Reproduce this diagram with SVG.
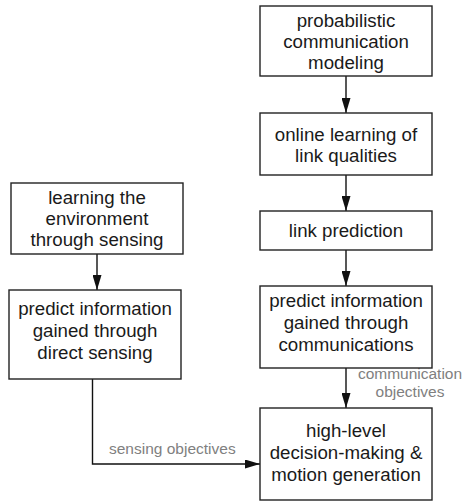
<svg xmlns="http://www.w3.org/2000/svg" width="463" height="501" viewBox="0 0 463 501">
  <defs>
    <marker id="arrow" viewBox="0 0 15 9" refX="15" refY="4.5" markerWidth="15" markerHeight="9" markerUnits="userSpaceOnUse" orient="auto">
      <path d="M0,0 L15,4.5 L0,9 Z" fill="#111"/>
    </marker>
  </defs>
  <style>
    .box { fill: #fff; stroke: #222; stroke-width: 1.4; }
    .txt { font-family: "Liberation Sans", Arial, sans-serif; font-size: 18.7px; fill: #1a1a1a; text-anchor: middle; }
    .lbl { font-family: "Liberation Sans", Arial, sans-serif; font-size: 15.5px; fill: #808080; }
    .edge { fill: none; stroke: #111; stroke-width: 1.4; }
  </style>
  <rect width="463" height="501" fill="#fff"/>

  <g id="connectors">
    <line class="edge" x1="346" y1="76" x2="346" y2="113" marker-end="url(#arrow)"/>
    <line class="edge" x1="346" y1="175" x2="346" y2="211" marker-end="url(#arrow)"/>
    <line class="edge" x1="346" y1="250" x2="346" y2="286" marker-end="url(#arrow)"/>
    <line class="edge" x1="346" y1="368" x2="346" y2="408" marker-end="url(#arrow)"/>
    <line class="edge" x1="97" y1="254" x2="97" y2="290" marker-end="url(#arrow)"/>
    <polyline class="edge" points="92.5,379 92.5,464 260,464" marker-end="url(#arrow)"/>
    <text class="lbl" x="410" y="379" text-anchor="middle">communication</text>
    <text class="lbl" x="410" y="397" text-anchor="middle">objectives</text>
    <text class="lbl" x="109" y="454">sensing objectives</text>
  </g>

  <g id="probabilistic-modeling">
    <rect class="box" x="260" y="6" width="172" height="70"/>
    <text class="txt" x="346" y="27">probabilistic</text>
    <text class="txt" x="346" y="48">communication</text>
    <text class="txt" x="346" y="69">modeling</text>
  </g>

  <g id="online-learning">
    <rect class="box" x="260" y="113" width="172" height="62"/>
    <text class="txt" x="346" y="141">online learning of</text>
    <text class="txt" x="346" y="162">link qualities</text>
  </g>

  <g id="link-prediction">
    <rect class="box" x="260" y="211" width="172" height="39"/>
    <text class="txt" x="346" y="237">link prediction</text>
  </g>

  <g id="predict-communications">
    <rect class="box" x="260" y="286" width="172" height="82"/>
    <text class="txt" x="346" y="307">predict information</text>
    <text class="txt" x="346" y="329">gained through</text>
    <text class="txt" x="346" y="351">communications</text>
  </g>

  <g id="learning-environment">
    <rect class="box" x="11" y="183" width="172" height="71"/>
    <text class="txt" x="97" y="204">learning the</text>
    <text class="txt" x="97" y="225">environment</text>
    <text class="txt" x="97" y="246">through sensing</text>
  </g>

  <g id="predict-sensing">
    <rect class="box" x="9" y="290" width="172" height="89"/>
    <text class="txt" x="95" y="315">predict information</text>
    <text class="txt" x="95" y="337">gained through</text>
    <text class="txt" x="95" y="359">direct sensing</text>
  </g>

  <g id="decision-making">
    <rect class="box" x="260" y="408" width="172" height="92"/>
    <text class="txt" x="346" y="437">high-level</text>
    <text class="txt" x="346" y="459">decision-making &amp;</text>
    <text class="txt" x="346" y="481">motion generation</text>
  </g>
</svg>
